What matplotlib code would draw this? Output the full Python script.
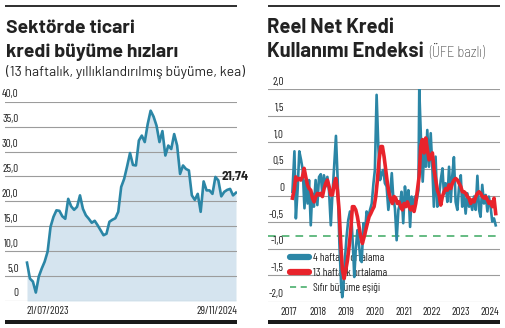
import matplotlib
matplotlib.use("Agg")
import matplotlib.pyplot as plt
import matplotlib.dates as mdates
from matplotlib.patches import Rectangle
from matplotlib.lines import Line2D
import numpy as np
import pandas as pd

# --- sektörel ticari kredi büyümesi (haftalık) ---
credit_start = "2023-07-21"
credit_growth = [7.7, 4.5, 3.9, 1.7, 4.9, 6.5, 7.9, 9.9, 14.9, 16.9, 18.2, 18.1,
                 17.0, 16.5, 20.5, 19.0, 18.3, 18.9, 21.2, 18.5, 17.2, 16.5, 15.7, 16.1,
                 15.2, 14.2, 13.2, 13.5, 15.9, 16.3, 16.6, 17.9, 22.9, 24.5, 27.0, 29.7,
                 27.3, 27.2, 32.2, 33.2, 31.9, 35.5, 38.2, 37.0, 35.2, 31.9, 34.1, 29.2,
                 31.2, 30.5, 33.5, 31.2, 25.5, 27.2, 26.5, 26.2, 21.2, 20.3, 21.5, 17.9,
                 24.0, 22.2, 22.2, 21.5, 24.9, 24.2, 21.0, 21.9, 22.3, 22.5, 21.2, 21.74]
left_yticks = [0, 5, 10, 15, 20, 25, 30, 35, 40]
left_ylabels = ["0", "5,0", "10,0", "15,0", "20,0", "25,0", "30,0", "35,0", "40,0"]
left_xlabels = ["21/07/2023", "29/11/2024"]

# --- reel net kredi kullanımı endeksi ---
ma4_years = [2017.12, 2017.19, 2017.24, 2017.30, 2017.36, 2017.42, 2017.48, 2017.54, 2017.59, 2017.65,
             2017.70, 2017.76, 2017.81, 2017.87, 2017.93, 2017.99, 2018.05, 2018.11, 2018.16, 2018.22,
             2018.28, 2018.34, 2018.40, 2018.46, 2018.51, 2018.57, 2018.64, 2018.70, 2018.76, 2018.82,
             2018.86, 2018.90, 2018.96, 2019.01, 2019.07, 2019.13, 2019.19, 2019.25, 2019.28, 2019.33,
             2019.39, 2019.44, 2019.50, 2019.54, 2019.60, 2019.65, 2019.71, 2019.77, 2019.83, 2019.89,
             2019.95, 2020.00, 2020.06, 2020.12, 2020.18, 2020.24, 2020.29, 2020.35, 2020.41, 2020.47,
             2020.53, 2020.59, 2020.64, 2020.70, 2020.76, 2020.82, 2020.88, 2020.93, 2020.99, 2021.05,
             2021.11, 2021.17, 2021.23, 2021.28, 2021.34, 2021.40, 2021.46, 2021.52, 2021.55, 2021.61,
             2021.67, 2021.73, 2021.78, 2021.83, 2021.89, 2021.95, 2022.01, 2022.06, 2022.12, 2022.18,
             2022.24, 2022.30, 2022.36, 2022.41, 2022.47, 2022.53, 2022.59, 2022.65, 2022.70, 2022.76,
             2022.82, 2022.88, 2022.94, 2023.00, 2023.05, 2023.11, 2023.17, 2023.23, 2023.29, 2023.34,
             2023.40, 2023.46, 2023.52, 2023.58, 2023.64, 2023.69, 2023.75, 2023.81, 2023.87, 2023.93,
             2023.98, 2024.04, 2024.10, 2024.16, 2024.22]
ma4_values = [0.07, 0.83, -0.43, 0.10, 0.83, 0.67, 0.48, -0.24, 0.29, -0.15,
              0.29, -0.56, 0.04, -0.21, 0.29, -0.18, 0.35, 0.40, 0.04, 0.38,
              0.17, 0.35, 0.07, -0.56, -0.05, 0.48, 1.12, 0.29, -0.90, -1.66,
              -1.91, -1.72, -1.15, -0.78, -0.46, -0.30, -0.52, -1.15, -1.53, -1.03,
              -0.65, -0.90, -1.22, -1.25, -0.52, -0.74, -0.30, -0.40, -0.27, -0.15,
              0.23, 0.48, 1.89, 0.92, 0.29, 0.42, 0.48, 0.23, 0.17, -0.27,
              0.01, 0.42, -0.02, -0.24, -0.84, -0.27, -0.15, 0.07, -0.52, 0.17,
              -0.15, 0.10, -0.59, -0.02, -0.21, -0.02, -0.08, 0.10, 2.00, 1.05,
              0.26, 0.92, 0.54, 1.23, 0.54, 1.17, 0.48, -0.21, 0.73, -0.21,
              -0.02, 0.29, 0.51, 0.04, 0.23, -0.12, 0.54, -0.12, 0.35, 0.72,
              -0.12, -0.27, 0.17, 0.38, -0.21, 0.01, -0.34, 0.04, -0.21, -0.12,
              -0.27, -0.02, -0.27, 0.37, -0.27, -0.40, 0.20, -0.15, 0.01, -0.30,
              -0.02, -0.21, -0.49, -0.43, -0.56]
ma13_first, ma13_last = 2017.12, 2024.22
ma13_values = [-0.05, 0.10, 0.35, 0.29, 0.32, 0.29, 0.35, 0.51, 0.35, 0.20,
               0.13, 0.10, -0.05, -0.12, -0.02, 0.04, 0.01, 0.04, -0.02, 0.13,
               0.23, 0.29, 0.17, 0.01, 0.01, 0.20, 0.32, 0.10, -0.27, -0.90,
               -1.40, -1.56, -1.40, -1.22, -0.96, -0.65, -0.21, -0.21, -0.27, -0.40,
               -0.59, -0.78, -0.90, -0.78, -0.65, -0.52, -0.40, -0.34, -0.27, -0.21,
               -0.02, 0.29, 0.67, 0.92, 0.92, 0.73, 0.48, 0.23, 0.04, -0.08,
               -0.15, -0.02, -0.05, -0.15, -0.12, -0.21, -0.27, -0.15, -0.21, -0.12,
               -0.21, -0.27, -0.21, -0.30, -0.15, 0.10, 0.35, 0.92, 1.05, 0.80,
               1.08, 0.86, 0.67, 0.73, 0.80, 0.48, 0.29, 0.10, 0.01, -0.18,
               -0.02, 0.07, 0.13, 0.10, 0.20, 0.13, 0.23, 0.29, 0.32, 0.29,
               0.23, 0.17, 0.07, 0.07, 0.04, -0.02, -0.05, -0.15, -0.08, -0.12,
               -0.02, 0.04, 0.07, 0.04, -0.02, -0.05, -0.02, -0.08, -0.15, -0.12,
               -0.21, -0.05, -0.34]
threshold = -0.76
right_yticks = [-2.0, -1.5, -1.0, -0.5, 0, 0.5, 1.0, 1.5, 2.0]
right_ylabels = ["-2,0", "-1,5", "-1,0", "-0,5", "0", "0,5", "1,0", "1,5", "2,0"]
years = [2017, 2018, 2019, 2020, 2021, 2022, 2023, 2024]
legend_labels = ["4 haftalık ortalama", "13 haftalık ortalama", "Sıfır büyüme eşiği"]

BLUE = "#2b86a6"
RED = "#e8232b"
GREEN = "#3aa860"
FILL = "#d5e4ef"
GRID = "#9c9c9c"
INK = "#222222"
TICKFONT = "Barlow Condensed"
SUBFONT = "Barlow Semi Condensed"
TITLEFONT = "Barlow"

W, H = 505, 328
fig = plt.figure(figsize=(W / 100, H / 100), dpi=100)


def px_axes(x0, x1, ytop, ybot):
    return fig.add_axes([x0 / W, (H - ybot) / H, (x1 - x0) / W, (ybot - ytop) / H])


def clean(ax):
    for s in ax.spines.values():
        s.set_visible(False)
    ax.set_xticks([])
    ax.set_yticks([])
    ax.patch.set_alpha(0)


def ytick_text(ax, ticks, labels, x_px):
    for v, lab in zip(ticks, labels):
        ax.axhline(v, color=GRID, lw=0.8, zorder=1)
        ax.annotate(lab, xy=(0, v), xycoords=("axes fraction", "data"),
                    xytext=(x_px, 2.5), textcoords="offset pixels",
                    ha="right", va="bottom", fontsize=8, family=TICKFONT,
                    color=INK)


# ---------------- left panel ----------------
dates = pd.date_range(credit_start, periods=len(credit_growth), freq="7D")
axl = px_axes(5, 237, 101.7, 301)
clean(axl)
d0, d1 = mdates.date2num(dates[0]), mdates.date2num(dates[-1])
span = (d1 - d0) / (236 - 27)
axl.set_xlim(d0 - 22 * span, d1 + 1 * span)
axl.set_ylim(0, 40)
ytick_text(axl, left_yticks, left_ylabels, 13.5)
axl.fill_between(dates, credit_growth, 0, color=FILL, lw=0, zorder=0)
axl.plot(dates, credit_growth, color=BLUE, lw=1.9, solid_joinstyle="round", zorder=3)
axl.annotate("21,74", xy=(dates[-1], credit_growth[-1]), xytext=(-1, 11),
             textcoords="offset pixels", ha="center", va="bottom",
             fontsize=9.5, fontweight="bold", family=SUBFONT, color=INK)
axl.annotate(left_xlabels[0], xy=(dates[0], 0), xytext=(0, -5),
             textcoords="offset pixels", ha="left", va="top",
             fontsize=8, family=TICKFONT, color=INK)
axl.annotate(left_xlabels[1], xy=(1, 0), xycoords="axes fraction", xytext=(0, -5),
             textcoords="offset pixels", ha="right", va="top",
             fontsize=8, family=TICKFONT, color=INK)

# ---------------- right panel ----------------
axr = px_axes(268, 500, 89, 302)
clean(axr)
axr.set_xlim(2017 - 21 / 28.63, 2017 + 211 / 28.63)
axr.set_ylim(-2, 2)
ytick_text(axr, right_yticks, right_ylabels, 16)
ma13_years = np.linspace(ma13_first, ma13_last, len(ma13_values))
axr.axhline(threshold, color=GREEN, lw=1.1, ls=(0, (5, 4)), zorder=2)
axr.plot(ma4_years, ma4_values, color=BLUE, lw=1.9, solid_joinstyle="round", zorder=3)
axr.plot(ma13_years, ma13_values, color=RED, lw=2.6, solid_joinstyle="round", zorder=4)
for yr in years:
    axr.annotate(str(yr), xy=(yr, -2), xytext=(0, -5), textcoords="offset pixels",
                 ha="center", va="top", fontsize=8, family=TICKFONT, color=INK)

handles = [Line2D([], [], color=BLUE, lw=4.5, solid_capstyle="round"),
           Line2D([], [], color=RED, lw=4.5, solid_capstyle="round"),
           Line2D([], [], color=GREEN, lw=1.1, ls=(0, (4, 3)))]
leg = axr.legend(handles, legend_labels, loc="upper left",
                 bbox_to_anchor=((290 - 268) / 232, (302 - 253) / 213),
                 frameon=False, borderpad=0, borderaxespad=0, handlelength=1.7,
                 handletextpad=0.4, labelspacing=0.45,
                 prop={"family": TICKFONT, "size": 8})
for t in leg.get_texts():
    t.set_color(INK)
leg.set_zorder(1)

# ---------------- titles, rules ----------------
def ftext(x, y, s, **kw):
    return fig.text(x / W, 1 - y / H, s, va="baseline", ha="left", color=INK, **kw)


# thin rule over each panel, heavy bar under it
for x0, x1 in [(5, 237), (268, 500)]:
    fig.patches.append(Rectangle((x0 / W, 1 - 7 / H), (x1 - x0) / W, 2 / H,
                                 facecolor="#333333", edgecolor="none",
                                 transform=fig.transFigure, figure=fig))
    fig.patches.append(Rectangle((x0 / W, 1 - 324 / H), (x1 - x0) / W, 4 / H,
                                 facecolor="#1a1a1a", edgecolor="none",
                                 transform=fig.transFigure, figure=fig))

ftext(6, 33, "Sektörde ticari", fontsize=14, fontweight="bold", family=TITLEFONT)
ftext(6, 57, "kredi büyüme hızları", fontsize=14, fontweight="bold", family=TITLEFONT)
ftext(6, 76, "(13 haftalık, yıllıklandırılmış büyüme, kea)",
      fontsize=10, family=TITLEFONT)
ftext(267, 33, "Reel Net Kredi", fontsize=14.5, fontweight="bold", family=TITLEFONT)
t2 = ftext(267, 57, "Kullanımı Endeksi", fontsize=14.5, fontweight="bold", family=TITLEFONT)
bb = t2.get_window_extent(renderer=fig.canvas.get_renderer())
fig.text(bb.x1 / W + 5 / W, 1 - 57 / H, "(ÜFE bazlı)", va="baseline", ha="left",
         fontsize=10.5, family=SUBFONT, fontweight="light", color=INK)

fig.savefig("out.png", dpi=100)
